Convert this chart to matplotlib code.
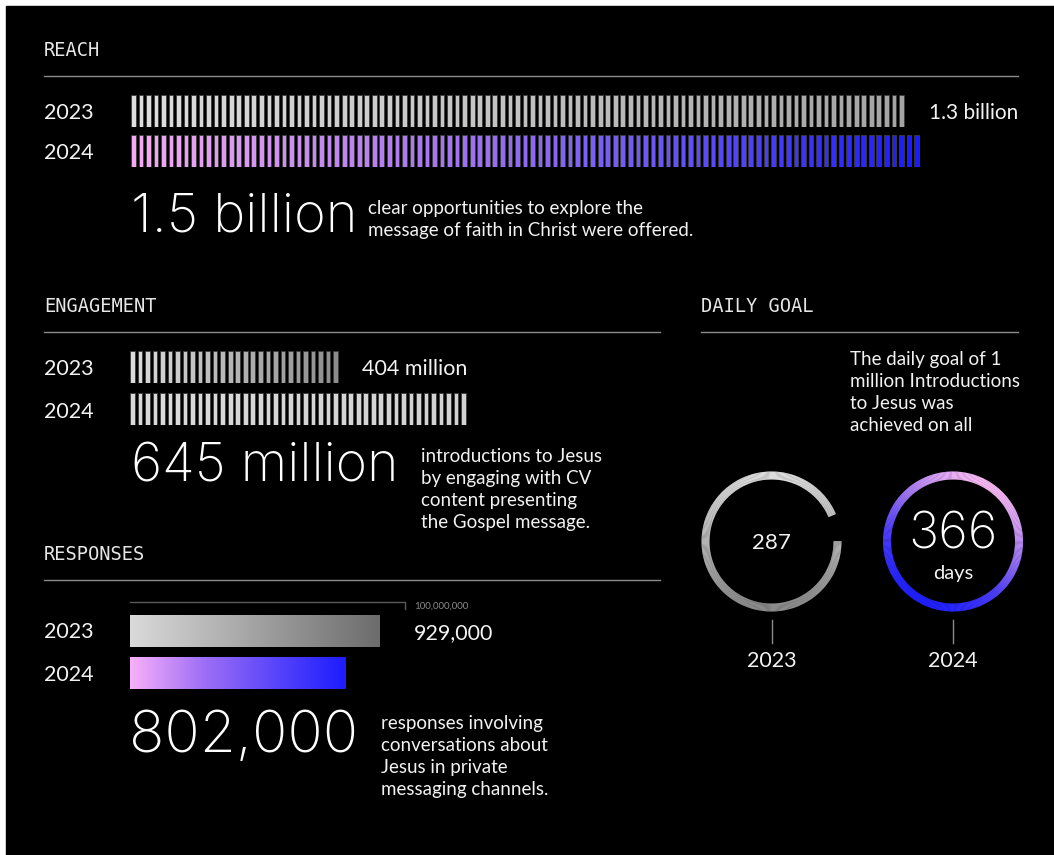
import matplotlib.pyplot as plt
import numpy as np
from matplotlib.colors import LinearSegmentedColormap
from matplotlib.patches import Rectangle, Wedge

# data
years = ['2023', '2024']
reach_labels = ['1.3 billion', '1.5 billion']
reach_stripes = [103, 105]
engagement_labels = ['404 million', '645 million']
engagement_stripes = [28, 45]
responses = [929000, 802000]
response_labels = ['929,000', '802,000']
goal_days = [287, 366]
ring_fill = [0.936, 1.0]

W, H = 1054, 855
STEP = 7.53  # px per stripe
FONT = 'Lato'
BIG = 'Inter'
MONO = 'DejaVu Sans Mono'
TXT = '#f2f2f2'

fig = plt.figure(figsize=(W / 100, H / 100), dpi=100, facecolor='white')


def px_axes(x0, y0, x1, y1):
    ax = fig.add_axes([x0 / W, 1 - y1 / H, (x1 - x0) / W, (y1 - y0) / H])
    ax.axis('off')
    ax.patch.set_alpha(0)
    return ax


# background / layout axes in pixel units
bg = px_axes(0, 0, W, H)
bg.set_xlim(0, W)
bg.set_ylim(H, 0)
bg.add_patch(Rectangle((6, 6), W, H, color='black'))


def header(x, y, text, x1):
    bg.text(x, y + 2, text, color='#e6e6e6', fontsize=13.5, family=MONO, va='center', ha='left')
    bg.plot([x, x1], [y + 28, y + 28], color='#8a8a8a', lw=1)


def year(y, text):
    bg.text(44, y + 2, text, color=TXT, fontsize=15.5, family=FONT, va='center', ha='left')


def body(x, y, lines):
    for i, line in enumerate(lines):
        bg.text(x, y + 1 + 22 * i, line, color=TXT, fontsize=13.5, family=FONT,
                va='center', ha='left')


def big(x, y, text, size=39):
    bg.text(x, y + 2, text, color='white', fontsize=size, family=BIG, fontweight='light',
            va='center', ha='left')


def stripe_row(x0, yc, n, cmap, h=32):
    ax = px_axes(x0, yc - h / 2, x0 + STEP * (n + 0.5), yc + h / 2)
    ax.set_xlim(0, n + 0.5)
    ax.set_ylim(0, 1)
    idx = np.arange(n)
    ax.bar(idx, 1, width=0.62, align='edge', color=cmap(idx / max(n - 1, 1)),
           edgecolor='#3c3c3c', linewidth=0.6)


def gradient_row(yc, value, cmap, xmax, h=32):
    ax = px_axes(130, yc - h / 2, 405, yc + h / 2)
    ax.set_xlim(0, xmax)
    ax.set_ylim(0, 1)
    grad = np.linspace(0, 1, 256).reshape(1, -1)
    ax.imshow(grad, cmap=cmap, extent=(0, value, 0, 1), aspect='auto')


grey_reach = LinearSegmentedColormap.from_list('gr', ['#dedede', '#a4a4a4'])
purple = LinearSegmentedColormap.from_list('pu', ['#f6aaf2', '#b27cf2', '#6a56f8', '#1a1aff'])
grey_eng = LinearSegmentedColormap.from_list('ge', ['#dcdcdc', '#8c8c8c'])
grey_eng2 = LinearSegmentedColormap.from_list('ge2', ['#dadada', '#d2d2d2'])
grey_resp = LinearSegmentedColormap.from_list('gs', ['#dadada', '#6c6c6c'])
purple_resp = LinearSegmentedColormap.from_list('ps', ['#f8b0f8', '#a070f6', '#5a46fa', '#1c1cff'])
grey_ring = LinearSegmentedColormap.from_list('gg', ['#dcdcdc', '#8a8a8a'])
purple_ring = LinearSegmentedColormap.from_list('pg', ['#f7b8f4', '#a87cf4', '#5040fa', '#2020ff'])

# REACH
header(44, 48, 'REACH', 1018)
year(111, years[0])
year(151, years[1])
stripe_row(131, 111, reach_stripes[0], grey_reach)
stripe_row(131, 151, reach_stripes[1], purple)
bg.text(1018, 113, reach_labels[0], color=TXT, fontsize=15, family=FONT, va='center', ha='right')
big(131, 215, reach_labels[1])
body(368, 207, ['clear opportunities to explore the',
                'message of faith in Christ were offered.'])

# ENGAGEMENT
header(44, 304, 'ENGAGEMENT', 660)
year(367, years[0])
year(410, years[1])
stripe_row(130, 367, engagement_stripes[0], grey_eng)
stripe_row(130, 409, engagement_stripes[1], grey_eng2)
bg.text(362, 369, engagement_labels[0], color=TXT, fontsize=15.5, family=FONT, va='center', ha='left')
big(131, 465, engagement_labels[1], 38.5)
body(421, 455, ['introductions to Jesus', 'by engaging with CV',
                'content presenting', 'the Gospel message.'])

# RESPONSES
header(44, 552, 'RESPONSES', 660)
year(630, years[0])
year(673, years[1])
bg.plot([130, 405, 405], [602, 602, 609], color='#5a5a5a', lw=1)
bg.text(414, 606, '100,000,000', color='#8a8a8a', fontsize=7, family=FONT, va='center', ha='left')
resp_max = responses[0] * 1.10
gradient_row(631, responses[0], grey_resp, resp_max)
gradient_row(673, responses[1], purple_resp, resp_max)
bg.text(414, 633, response_labels[0], color=TXT, fontsize=15.5, family=FONT, va='center', ha='left')
big(129, 735, response_labels[1], 42)
body(381, 722, ['responses involving', 'conversations about',
                'Jesus in private', 'messaging channels.'])

# DAILY GOAL
header(701, 304, 'DAILY GOAL', 1018)
body(850, 358, ['The daily goal of 1', 'million Introductions',
                'to Jesus was', 'achieved on all'])


def ring(cx, cy, fill, cmap, direction):
    ax = px_axes(cx - 75, cy - 75, cx + 75, cy + 75)
    ax.set_xlim(-75, 75)
    ax.set_ylim(-75, 75)
    n = 360
    d = 360.0 * fill / n
    for k in range(n):
        t2 = -k * d
        t1 = t2 - d
        mid = np.radians((t1 + t2) / 2)
        c = cmap((1 - np.cos(mid - np.radians(direction))) / 2)
        ax.add_patch(Wedge((0, 0), 70, t1, t2 + 0.3, width=8, facecolor=c, edgecolor='none'))


ring_x = [771.5, 953]
ring(ring_x[0], 541.5, ring_fill[0], grey_ring, 90)
ring(ring_x[1], 541.5, ring_fill[1], purple_ring, 60)
bg.text(ring_x[0], 543, str(goal_days[0]), color=TXT, fontsize=16, family=FONT, ha='center', va='center')
bg.text(ring_x[1], 535, str(goal_days[1]), color='white', fontsize=36.5, family=BIG,
        fontweight='light', ha='center', va='center')
bg.text(ring_x[1], 573, 'days', color=TXT, fontsize=14.5, family=FONT, ha='center', va='center')
for x, yr in zip(ring_x, years):
    bg.plot([x, x], [620, 643], color='#8a8a8a', lw=1)
    bg.text(x, 661, yr, color=TXT, fontsize=15.5, family=FONT, ha='center', va='center')

fig.savefig('out.png', dpi=100, facecolor='white')
